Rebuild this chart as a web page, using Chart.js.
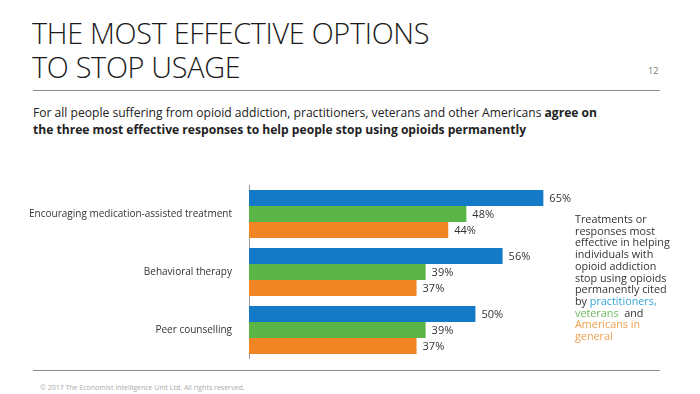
<!DOCTYPE html>
<html>
<head>
<meta charset="utf-8">
<script src="https://cdn.jsdelivr.net/npm/chart.js@4.4.1/dist/chart.umd.min.js"></script>
<style>
  html, body { margin: 0; padding: 0; background: #fff; }
  body { width: 700px; height: 394px; position: relative; overflow: hidden; font-family: "Open Sans", sans-serif; color: #222; }
  .title { position: absolute; left: 32px; top: 16px; font-size: 28.8px; font-weight: 300; line-height: 34px; letter-spacing: -0.3px; color: #1a1a1a; }
  .pagenum { position: absolute; left: 648px; top: 64px; font-size: 9px; color: #777; }
  .rule { position: absolute; left: 33px; width: 627px; height: 1px; background: #8c8c8c; }
  .sub { position: absolute; left: 33px; top: 104px; font-size: 12.1px; line-height: 17px; color: #222; }
  .note { position: absolute; left: 575px; top: 213px; font-size: 10.8px; line-height: 11.7px; color: #333; width: 124px; }
  .footer { position: absolute; left: 40px; top: 383px; font-size: 7px; color: #aaa; }
  #chart { position: absolute; left: 0; top: 180px; }
</style>
</head>
<body>
<div class="title">THE MOST EFFECTIVE OPTIONS<br>TO STOP USAGE</div>
<div class="pagenum">12</div>
<div class="rule" style="top:90px"></div>
<div class="sub">For all people suffering from opioid addiction, practitioners, veterans and other Americans <b>agree on<br>the three most effective responses to help people stop using opioids permanently</b></div>
<canvas id="chart" width="600" height="179"></canvas>
<div class="note">Treatments or<br>responses most<br>effective in helping<br>individuals with<br>opioid addiction<br>stop using opioids<br>permanently cited<br>by <span style="color:#35a3dc">practitioners,</span><br><span style="color:#6dbb5a">veterans</span>&nbsp; and<br><span style="color:#f0a050">Americans in<br>general</span></div>
<div class="rule" style="top:370px"></div>
<div class="footer">© 2017 The Economist Intelligence Unit Ltd. All rights reserved.</div>

<script>
// 항목과 값
var categories = ["Encouraging medication-assisted treatment", "Behavioral therapy", "Peer counselling"];
var seriesNames = ["Practitioners", "Veterans", "Americans in general"];
var practitioners = [65, 56, 50];
var veterans = [48, 39, 39];
var americans = [44, 37, 37];
var colors = ["#1479c6", "#5ab546", "#f18423"];

// 막대 끝에 % 표시
var valueLabels = {
    id: "valueLabels",
    afterDatasetsDraw: function(chart) {
        var ctx = chart.ctx;
        ctx.save();
        ctx.font = "11px 'Open Sans'";
        ctx.fillStyle = "#333";
        ctx.textBaseline = "middle";
        chart.data.datasets.forEach(function(ds, i) {
            var meta = chart.getDatasetMeta(i);
            meta.data.forEach(function(bar, j) {
                ctx.fillText(ds.data[j] + "%", bar.x + 6, bar.y + 1);
            });
        });
        ctx.restore();
    }
};

var ctx = document.getElementById("chart").getContext("2d");
var myChart = new Chart(ctx, {
    type: "bar",
    data: {
        labels: categories,
        datasets: [
            { label: seriesNames[0], data: practitioners, backgroundColor: colors[0] },
            { label: seriesNames[1], data: veterans, backgroundColor: colors[1] },
            { label: seriesNames[2], data: americans, backgroundColor: colors[2] }
        ]
    },
    options: {
        indexAxis: "y",
        responsive: false,
        animation: false,
        layout: { padding: { top: 5, bottom: 0, left: 0, right: 34 } },
        datasets: { bar: { barPercentage: 1, categoryPercentage: 0.83 } },
        plugins: { legend: { display: false }, tooltip: { enabled: false } },
        scales: {
            x: { display: false, min: 0, max: 70 },
            y: {
                grid: { display: false },
                border: { display: true, color: "#9a9a9a", width: 1 },
                ticks: { color: "#333", font: { family: "Open Sans", size: 10 }, padding: 9 },
                afterFit: function(scale) {
                    // 축 너비 고정, 위아래 여백 제거
                    scale.width = 249;
                    scale.paddingTop = 0;
                    scale.paddingBottom = 0;
                }
            }
        }
    },
    plugins: [valueLabels]
});
</script>
</body>
</html>
